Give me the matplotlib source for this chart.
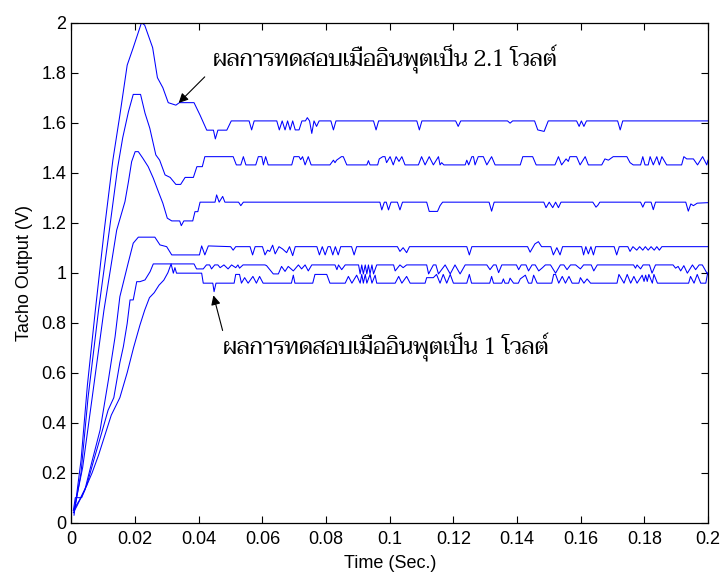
import matplotlib
matplotlib.use("Agg")
import matplotlib.pyplot as plt
import numpy as np

# time in ms, output in V, top curve first
run_21v = [
    (0.8, 0.03), (3.0, 0.25), (5.0, 0.55), (7.5, 0.85), (10.3, 1.17), (13.0, 1.45), (15.2, 1.63),
    (17.5, 1.83), (19.4, 1.90), (22.0, 2.00), (23.0, 1.99), (25.5, 1.90), (27.0, 1.78), (28.7, 1.74),
    (30.4, 1.68), (32.8, 1.67), (33.9, 1.68), (38.5, 1.68), (40.4, 1.63), (42.5, 1.57), (44.6, 1.57),
    (45.2, 1.535), (46.0, 1.57), (48.8, 1.57), (50.2, 1.607),
    (55.8, 1.607), (56.6, 1.571), (57.4, 1.607), (64.5, 1.607), (65.3, 1.571), (66.2, 1.607),
    (67.1, 1.571), (67.9, 1.607), (68.7, 1.571), (69.5, 1.607), (70.3, 1.571), (71.5, 1.571),
    (72.4, 1.607), (73.5, 1.607), (74.1, 1.62), (74.8, 1.607), (75.5, 1.557), (76.2, 1.607),
    (77.0, 1.585), (77.8, 1.607), (81.5, 1.607), (82.3, 1.571), (83.1, 1.607), (94.9, 1.607),
    (95.7, 1.571), (96.5, 1.607), (108.5, 1.607), (109.3, 1.571), (110.1, 1.607), (120.7, 1.607),
    (121.5, 1.585), (122.3, 1.607), (137.0, 1.607), (137.8, 1.598), (138.6, 1.607), (145.5, 1.607),
    (146.5, 1.571), (148.5, 1.565), (149.8, 1.607), (158.7, 1.607), (159.5, 1.585), (160.2, 1.607),
    (161.0, 1.585), (161.8, 1.607), (171.6, 1.607), (172.4, 1.571), (173.2, 1.607), (200.0, 1.607),
]

run_b = [
    (0.8, 0.04), (3.0, 0.2), (5.2, 0.5), (8.5, 0.85), (11.9, 1.17), (14.5, 1.42), (16.1, 1.54),
    (17.9, 1.644), (19.4, 1.713), (21.7, 1.713), (23.1, 1.638), (24.6, 1.578), (26.5, 1.471),
    (27.7, 1.45), (29.4, 1.391), (31.0, 1.381), (32.8, 1.353), (34.3, 1.353), (35.7, 1.381),
    (38.3, 1.381), (39.4, 1.424), (41.1, 1.424), (41.9, 1.464), (50.8, 1.464), (51.8, 1.431),
    (53.2, 1.431), (54.0, 1.464), (54.8, 1.431), (57.9, 1.431), (58.7, 1.464), (59.8, 1.464),
    (60.3, 1.431), (61.0, 1.464), (61.8, 1.431), (69.2, 1.431), (69.9, 1.464), (71.5, 1.464),
    (72.0, 1.452), (72.6, 1.464), (73.4, 1.431), (74.4, 1.464), (75.3, 1.431), (81.2, 1.431),
    (82.3, 1.45), (82.8, 1.44), (83.3, 1.45), (84.8, 1.464), (85.4, 1.464), (86.5, 1.431),
    (92.8, 1.431), (93.3, 1.448), (93.8, 1.431), (96.2, 1.431), (96.7, 1.455), (97.8, 1.464),
    (98.5, 1.464), (99.0, 1.44), (100.1, 1.464), (101.1, 1.431), (102.0, 1.464), (102.9, 1.445),
    (103.8, 1.464), (104.8, 1.431), (109.0, 1.431), (110.0, 1.464), (111.1, 1.431), (112.4, 1.464),
    (113.7, 1.431), (115.3, 1.464), (115.8, 1.431), (116.3, 1.44), (117.0, 1.431), (123.7, 1.431),
    (124.2, 1.45), (124.8, 1.431), (125.8, 1.464), (126.3, 1.464), (126.8, 1.431), (127.8, 1.464),
    (129.4, 1.464), (130.5, 1.431), (132.0, 1.464), (133.1, 1.431), (141.0, 1.431), (141.8, 1.464),
    (144.9, 1.464), (146.0, 1.431), (151.9, 1.431), (153.0, 1.464), (154.0, 1.431), (155.4, 1.455),
    (156.1, 1.445), (156.6, 1.464), (158.7, 1.464), (159.8, 1.431), (161.4, 1.464), (162.4, 1.431),
    (166.6, 1.431), (167.6, 1.455), (168.7, 1.45), (170.2, 1.464), (174.5, 1.464), (175.5, 1.44),
    (176.5, 1.431), (178.8, 1.431), (179.5, 1.464), (180.2, 1.431), (181.2, 1.431), (181.8, 1.464),
    (182.8, 1.431), (183.9, 1.464), (184.7, 1.431), (185.5, 1.464), (187.0, 1.431), (191.7, 1.431),
    (192.4, 1.464), (193.3, 1.455), (195.4, 1.455), (196.7, 1.431), (198.3, 1.464), (199.6, 1.431),
    (200.0, 1.45),
]

run_c = [
    (0.8, 0.05), (3.5, 0.22), (6.5, 0.5), (10.2, 0.85), (14.2, 1.17), (16.8, 1.284), (17.9, 1.364),
    (18.9, 1.444), (20.0, 1.484), (21.0, 1.484), (22.4, 1.458), (24.1, 1.424), (25.7, 1.378),
    (27.3, 1.324), (28.7, 1.278), (30.1, 1.218), (31.5, 1.207), (34.0, 1.207), (34.5, 1.188),
    (35.3, 1.207), (38.1, 1.207), (38.8, 1.244), (39.7, 1.244), (40.4, 1.282), (45.1, 1.282),
    (45.6, 1.311), (46.4, 1.282), (47.5, 1.305), (48.2, 1.282), (52.5, 1.282), (53.2, 1.268),
    (54.0, 1.282), (96.9, 1.282), (97.5, 1.251), (98.3, 1.282), (98.9, 1.282), (99.6, 1.251),
    (100.4, 1.282), (102.4, 1.282), (103.2, 1.251), (104.0, 1.282), (111.6, 1.282), (112.4, 1.245),
    (115.0, 1.245), (115.8, 1.268), (116.6, 1.282), (131.2, 1.282), (132.0, 1.246), (132.8, 1.282),
    (148.4, 1.282), (149.1, 1.26), (150.1, 1.282), (151.2, 1.26), (152.1, 1.282), (153.0, 1.26),
    (153.8, 1.282), (163.8, 1.282), (164.8, 1.262), (165.4, 1.27), (166.0, 1.282), (178.8, 1.282),
    (179.5, 1.262), (180.2, 1.282), (182.1, 1.282), (182.8, 1.252), (183.5, 1.282), (193.0, 1.282),
    (193.8, 1.246), (194.6, 1.275), (195.4, 1.268), (196.6, 1.278), (200.0, 1.28),
]

run_d = [
    (0.6, 0.04), (1.6, 0.064), (4.2, 0.131), (6.3, 0.238), (9.0, 0.371), (11.6, 0.571), (13.7, 0.744),
    (15.2, 0.904), (17.8, 1.038), (19.4, 1.118), (21.0, 1.142), (26.2, 1.142), (27.8, 1.111),
    (29.9, 1.104), (31.5, 1.071), (40.2, 1.071), (40.9, 1.107), (41.9, 1.071), (43.0, 1.107),
    (50.0, 1.104), (50.8, 1.09), (51.6, 1.104), (56.1, 1.104), (56.9, 1.071), (57.7, 1.104),
    (60.0, 1.104), (60.8, 1.071), (61.6, 1.09), (62.3, 1.085), (63.2, 1.11), (64.0, 1.075),
    (65.2, 1.104), (66.3, 1.095), (67.6, 1.08), (68.5, 1.104), (69.5, 1.068), (70.3, 1.104),
    (77.1, 1.104), (77.9, 1.071), (78.8, 1.104), (79.7, 1.071), (80.6, 1.104), (81.3, 1.104),
    (82.1, 1.071), (82.9, 1.104), (83.8, 1.071), (84.6, 1.104), (88.0, 1.104), (88.8, 1.071),
    (89.6, 1.104), (102.4, 1.104), (103.2, 1.085), (104.2, 1.1), (105.3, 1.08), (106.2, 1.104),
    (124.2, 1.104), (125.0, 1.071), (125.8, 1.104), (143.3, 1.104), (144.1, 1.082), (145.6, 1.115),
    (146.7, 1.124), (147.7, 1.104), (150.6, 1.104), (151.4, 1.071), (152.5, 1.10), (153.5, 1.071),
    (154.3, 1.104), (160.3, 1.104), (160.9, 1.071), (161.6, 1.104), (162.4, 1.075), (163.2, 1.104),
    (164.0, 1.071), (164.7, 1.104), (170.5, 1.104), (171.3, 1.071), (172.1, 1.104), (174.8, 1.104),
    (175.5, 1.085), (176.4, 1.104), (177.6, 1.09), (178.5, 1.104), (179.5, 1.09), (180.3, 1.104),
    (181.2, 1.09), (182.1, 1.104), (183.1, 1.09), (183.9, 1.104), (184.7, 1.09), (185.5, 1.104),
    (200.0, 1.104),
]

run_e = [
    (0.6, 0.05), (2.5, 0.09), (4.8, 0.15), (7.0, 0.25), (9.5, 0.36), (11.5, 0.45), (13.3, 0.50),
    (15.2, 0.64), (16.3, 0.704), (17.5, 0.797), (18.4, 0.891), (19.4, 0.891), (20.5, 0.964),
    (21.5, 0.964), (23.1, 0.971), (24.7, 1.004), (25.7, 1.035), (38.5, 1.035), (39.3, 1.015),
    (41.4, 1.015), (42.4, 1.031), (43.4, 1.031), (44.0, 1.015), (45.0, 1.031), (46.0, 1.031),
    (46.7, 1.02), (47.9, 1.031), (49.2, 1.015), (50.3, 1.031), (51.6, 1.02), (52.3, 1.031),
    (52.8, 1.018), (53.9, 1.031), (60.8, 1.031), (61.3, 1.028), (63.4, 0.995), (65.0, 0.995),
    (66.0, 1.025), (67.1, 1.005), (68.1, 1.025), (69.7, 1.007), (71.3, 1.031), (72.3, 1.015),
    (73.4, 1.031), (74.4, 1.007), (75.5, 1.031), (82.8, 1.031), (83.4, 1.012), (83.9, 1.031),
    (84.9, 1.012), (86.0, 1.031), (90.2, 1.031), (90.7, 0.995), (91.2, 1.031), (91.7, 0.995),
    (92.3, 1.031), (92.8, 0.995), (93.3, 1.031), (93.8, 0.995), (94.4, 1.031), (94.9, 0.995),
    (95.9, 1.031), (101.2, 1.031), (101.7, 1.007), (103.2, 1.031), (104.2, 1.02), (105.3, 1.031),
    (111.6, 1.031), (112.2, 0.995), (113.7, 1.031), (114.5, 1.031), (115.3, 0.995), (117.4, 1.031),
    (119.0, 0.995), (120.5, 1.031), (122.1, 0.995), (123.7, 1.031), (130.5, 1.031), (131.5, 1.012),
    (132.6, 1.031), (133.4, 1.031), (134.2, 1.0), (135.2, 1.031), (139.8, 1.031), (140.5, 1.012),
    (141.3, 1.031), (142.8, 1.031), (143.6, 1.007), (144.7, 1.031), (145.7, 1.031), (146.8, 1.007),
    (148.0, 1.02), (148.9, 1.031), (150.5, 1.031), (152.1, 0.998), (153.6, 1.031), (154.7, 1.031),
    (155.7, 1.012), (156.8, 1.031), (158.4, 1.031), (159.9, 1.015), (160.9, 1.031), (163.3, 1.031),
    (164.1, 1.007), (165.2, 1.031), (176.6, 1.031), (177.2, 1.018), (177.7, 1.031), (178.8, 1.015),
    (179.6, 1.031), (181.6, 1.031), (182.4, 0.998), (183.5, 1.031), (189.0, 1.031), (189.8, 1.018),
    (190.6, 1.025), (191.4, 1.007), (192.4, 1.028), (193.5, 0.998), (195.1, 1.031), (196.1, 1.012),
    (197.2, 1.031), (198.2, 1.031), (199.8, 0.995), (200.0, 1.0),
]

run_1v = [
    (0.6, 0.05), (1.2, 0.10), (3.2, 0.10), (4.5, 0.14), (6.5, 0.2), (8.5, 0.27), (10.5, 0.35),
    (12.5, 0.43), (15.2, 0.50), (17.5, 0.60), (19.5, 0.70), (21.5, 0.79), (23.0, 0.85), (24.5, 0.90),
    (26.0, 0.92), (27.5, 0.95), (29.0, 0.97), (30.3, 1.0), (31.3, 1.035), (32.0, 0.998), (32.5, 1.02),
    (33.0, 0.998), (40.9, 0.998), (41.4, 0.958), (44.4, 0.958), (44.8, 0.924), (45.4, 0.958),
    (51.1, 0.958), (51.6, 0.993), (52.8, 0.993), (53.4, 0.958), (54.4, 0.98), (55.5, 0.958),
    (57.0, 0.985), (58.1, 0.958), (59.1, 0.985), (60.2, 0.958), (69.1, 0.958), (69.7, 0.99),
    (70.2, 0.958), (75.8, 0.958), (76.5, 0.993), (80.2, 0.993), (81.2, 0.958), (86.0, 0.958),
    (87.0, 0.985), (88.1, 0.958), (89.6, 0.99), (90.7, 0.958), (91.2, 0.993), (91.7, 0.958),
    (92.3, 0.993), (92.8, 0.958), (93.8, 0.993), (94.4, 0.958), (95.4, 0.99), (95.9, 0.958),
    (101.7, 0.958), (102.8, 0.985), (103.8, 0.958), (105.3, 0.985), (106.4, 0.958), (111.1, 0.958),
    (111.6, 0.98), (113.7, 0.98), (114.7, 0.993), (115.8, 0.958), (116.8, 0.993), (117.9, 0.958),
    (119.0, 0.993), (120.0, 0.958), (124.2, 0.958), (125.0, 0.993), (125.7, 0.958), (131.4, 0.958),
    (132.0, 0.985), (132.6, 0.958), (135.2, 0.958), (135.7, 0.975), (136.2, 0.958), (137.3, 0.958),
    (137.8, 0.978), (138.9, 0.958), (140.4, 0.958), (141.0, 0.975), (142.6, 0.99), (143.6, 0.958),
    (144.6, 0.958), (145.2, 0.99), (146.3, 0.958), (150.9, 0.958), (151.5, 0.993), (152.1, 0.993),
    (153.1, 0.958), (154.2, 0.985), (155.2, 0.958), (156.3, 0.985), (157.3, 0.958), (159.4, 0.958),
    (159.9, 0.98), (161.0, 0.958), (162.0, 0.975), (163.1, 0.958), (171.4, 0.958), (172.0, 0.993),
    (173.6, 0.958), (174.6, 0.993), (175.7, 0.958), (176.7, 0.985), (177.7, 0.958), (179.3, 0.99),
    (179.9, 0.965), (180.4, 0.99), (180.9, 0.965), (181.4, 0.993), (182.5, 0.958), (183.0, 0.993),
    (184.1, 0.958), (193.9, 0.958), (194.5, 0.985), (195.6, 0.958), (196.6, 0.993), (197.7, 0.958),
    (199.3, 0.958), (199.8, 0.993), (200.0, 0.993),
]

runs = [run_21v, run_b, run_c, run_d, run_e, run_1v]

x_ticks = [0, 0.02, 0.04, 0.06, 0.08, 0.1, 0.12, 0.14, 0.16, 0.18, 0.2]
x_labels = ["0", "0.02", "0.04", "0.06", "0.08", "0.1", "0.12", "0.14", "0.16", "0.18", "0.2"]
y_ticks = [0, 0.2, 0.4, 0.6, 0.8, 1, 1.2, 1.4, 1.6, 1.8, 2]
y_labels = ["0", "0.2", "0.4", "0.6", "0.8", "1", "1.2", "1.4", "1.6", "1.8", "2"]

note_21v = "ผลการทดสอบเมื่ออินพุตเป็น 2.1 โวลต์"
note_1v = "ผลการทดสอบเมื่ออินพุตเป็น 1 โวลต์"

plt.rcParams["font.family"] = ["Liberation Sans", "DejaVu Sans"]
thai_font = ["Taviraj", "Noto Serif Thai", "Noto Sans Thai", "DejaVu Sans"]

fig = plt.figure(figsize=(7.25, 5.75), dpi=100)
ax = fig.add_axes([0.0986, 0.0910, 0.878, 0.8696])

for run in runs:
    t_ms, volts = zip(*run)
    ax.plot(np.array(t_ms) / 1000, volts, color="#0000ff", lw=0.75)

ax.set_xlim(0, 0.2)
ax.set_ylim(0, 2)
ax.set_xticks(x_ticks)
ax.set_xticklabels(x_labels)
ax.set_yticks(y_ticks)
ax.set_yticklabels(y_labels)
ax.tick_params(direction="in", top=True, right=True, length=5, width=0.8, labelsize=13, colors="black")
ax.tick_params(axis="x", pad=6)
for spine in ax.spines.values():
    spine.set_linewidth(0.9)

ax.set_xlabel("Time (Sec.)", fontsize=13, labelpad=5)
ax.set_ylabel("Tacho Output (V)", fontsize=13, labelpad=6)

ax.annotate("", xy=(0.03306, 1.671), xytext=(0.04248, 1.791),
            arrowprops=dict(arrowstyle="-|>", color="black", lw=0.8, mutation_scale=14))
ax.text(0.04446, 1.825, note_21v, family=thai_font, fontsize=16, va="baseline", ha="left")

ax.annotate("", xy=(0.04437, 0.92), xytext=(0.0477, 0.758),
            arrowprops=dict(arrowstyle="-|>", color="black", lw=0.8, mutation_scale=14))
ax.text(0.0477, 0.671, note_1v, family=thai_font, fontsize=16, va="baseline", ha="left")

fig.savefig("out.png", dpi=100)
